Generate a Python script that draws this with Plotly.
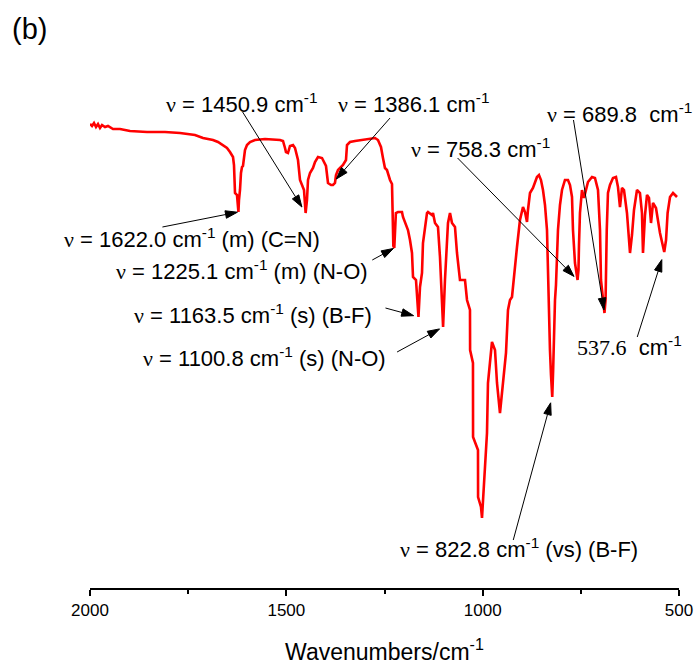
import math
import plotly.graph_objects as go

# FT-IR spectrum, 2000-500 cm-1 region
wavenumber = [
    2000, 1994.9, 1989.8, 1984.7, 1979.6, 1974.5, 1969.4, 1961.8, 1954.2, 1941.4,
    1923.6, 1898.1, 1854.8, 1809.0, 1770.8, 1732.6, 1712.2, 1686.8, 1674.0, 1661.3,
    1651.1, 1643.5, 1635.8, 1633.3, 1630.7, 1625.7, 1622.0, 1620.6, 1618.0, 1615.5,
    1612.9, 1610.4, 1605.3, 1600.2, 1592.5, 1579.8, 1554.3, 1516.1, 1508.5, 1503.4,
    1500.9, 1495.8, 1490.7, 1483.0, 1477.9, 1470.3, 1465.2, 1455.0, 1450.9, 1447.4,
    1444.8, 1439.7, 1432.1, 1427.0, 1419.4, 1409.2, 1399.0, 1393.9, 1386.1, 1381.2,
    1376.1, 1373.5, 1368.4, 1355.7, 1348.1, 1345.5, 1337.9, 1325.1, 1304.8, 1287.0,
    1274.2, 1266.6, 1259.0, 1253.9, 1248.8, 1243.7, 1236.0, 1230.9, 1227.5, 1225.1,
    1221.0, 1215.6, 1205.5, 1202.9, 1197.8, 1190.2, 1185.1, 1180.0, 1177.4, 1169.8,
    1163.5, 1159.6, 1154.5, 1152.0, 1141.8, 1139.3, 1129.1, 1126.5, 1121.4, 1113.8,
    1108.7, 1103.6, 1100.8, 1096.0, 1090.9, 1088.3, 1083.2, 1078.1, 1070.5, 1065.4,
    1057.8, 1052.7, 1045.0, 1039.9, 1032.3, 1032.0, 1024.7, 1024.5, 1011.9, 1011.7,
    1004.3, 1001.7, 999.2, 989.0, 986.5, 976.3, 968.6, 963.5, 955.9, 948.3,
    940.6, 935.5, 930.4, 925.3, 917.7, 912.6, 905.0, 897.3, 892.2, 887.1,
    884.6, 879.5, 871.9, 861.7, 856.6, 851.5, 846.4, 841.3, 836.2, 833.7,
    831.1, 828.6, 826.0, 822.8, 820.5, 818.4, 815.8, 813.3, 810.8, 808.2,
    803.1, 798.0, 790.4, 782.7, 777.6, 772.5, 770.0, 764.9, 758.3, 756.0,
    754.7, 752.2, 747.1, 742.0, 736.9, 731.8, 721.6, 714.0, 706.3, 701.2,
    698.7, 694.0, 689.8, 687.0, 685.5, 684.0, 680.9, 675.8, 668.1, 660.5,
    655.4, 650.3, 645.2, 640.1, 632.5, 627.4, 624.8, 619.7, 614.6, 607.0,
    599.4, 594.3, 591.7, 586.6, 581.5, 576.4, 571.3, 566.2, 558.6, 548.4,
    537.6, 533.0, 529.0, 522.9, 515.2, 510.1, 505.1,
]

transmittance = [
    95.2, 94.8, 95.4, 94.6, 95.2, 94.4, 95.0, 94.6, 94.8, 94.2,
    94.2, 93.8, 93.6, 93.6, 93.4, 93.0, 92.4, 92.0, 91.6, 91.0,
    90.4, 89.6, 88.6, 87.0, 81.4, 81.0, 77.6, 80.0, 82.0, 85.4,
    86.6, 86.8, 90.0, 91.0, 91.6, 92.0, 92.2, 92.0, 91.8, 90.4,
    89.6, 89.4, 90.8, 91.0, 90.4, 88.0, 84.0, 82.0, 77.4, 80.0,
    84.0, 85.4, 86.4, 87.6, 88.6, 88.4, 86.8, 83.4, 83.0, 83.0,
    83.4, 85.0, 86.0, 87.0, 88.0, 91.0, 91.6, 91.8, 92.0, 92.2,
    92.4, 92.0, 90.6, 88.4, 86.4, 86.0, 84.0, 83.2, 70.8, 70.4,
    77.4, 77.6, 77.6, 76.6, 75.4, 74.0, 72.0, 69.4, 64.6, 64.0,
    56.6, 62.6, 65.4, 71.4, 77.4, 77.6, 77.0, 77.4, 75.4, 74.6,
    68.6, 58.6, 54.6, 64.0, 72.6, 75.4, 77.4, 75.4, 74.6, 69.4,
    64.0, 64.0, 64.0, 60.0, 58.0, 50.0, 47.4, 32.6, 30.0, 20.6,
    18.6, 16.4, 20.0, 33.4, 43.4, 51.6, 50.0, 43.4, 37.4, 43.4,
    49.4, 58.0, 60.0, 60.6, 67.0, 70.6, 76.0, 78.6, 77.6, 75.6,
    78.0, 81.4, 82.4, 84.6, 85.0, 84.0, 82.0, 79.0, 74.0, 64.0,
    54.0, 50.0, 45.0, 40.6, 46.0, 56.0, 60.0, 63.0, 68.0, 74.0,
    79.0, 82.0, 84.0, 84.0, 83.0, 80.6, 74.0, 67.4, 64.0, 66.0,
    71.0, 77.4, 82.0, 80.4, 82.0, 83.6, 84.6, 84.4, 82.0, 74.0,
    64.0, 60.0, 57.4, 60.0, 68.0, 74.0, 81.4, 83.0, 84.4, 84.6,
    82.6, 78.6, 82.4, 82.0, 77.4, 73.0, 69.4, 73.0, 78.0, 82.0,
    81.4, 77.4, 69.4, 77.0, 81.0, 80.4, 75.4, 79.4, 78.4, 73.4,
    69.6, 72.0, 77.4, 80.6, 81.4, 81.0, 80.6,
]

# Assigned bands and their label suffixes
band_positions = [1622.0, 1450.9, 1386.1, 1225.1, 1163.5, 1100.8, 822.8, 758.3, 689.8, 537.6]
band_suffixes = [" (m) (C=N)", "", "", " (m) (N-O)", " (s) (B-F)", " (s) (N-O)",
                 " (vs) (B-F)", "", "", ""]

W, H = 696, 665
ML, MR, MT, MB = 90, 17, 100, 77
PW, PH = W - ML - MR, H - MT - MB

SANS = "Liberation Sans, Arial, sans-serif"
SERIF = "Liberation Serif, Times New Roman, serif"
LABEL_SIZE = 22
NU = f'<span style="font-family:{SERIF};font-size:{LABEL_SIZE}px">ν</span>'
CM = "cm<sup>-1</sup>"


def paper(px, py):
    """Page pixel -> paper fraction."""
    return (px - ML) / PW, (H - MB - py) / PH


def label(pos, suffix, spacer=" "):
    return f"{NU} = {pos:.1f}{spacer}{CM}{suffix}"


fig = go.Figure()
fig.add_trace(go.Scatter(
    x=wavenumber, y=transmittance, mode="lines",
    line=dict(color="#ff0000", width=2.6),
    hoverinfo="skip", showlegend=False,
))

# label text placement (left edge, vertical centre) in page pixels
text_layout = {
    1622.0: (62, 238),
    1450.9: (164, 103),
    1386.1: (336, 103),
    1225.1: (114, 270),
    1163.5: (132, 314),
    1100.8: (141, 357),
    822.8: (398, 548),
    758.3: (409, 148),
    689.8: (545, 113),
    537.6: (575, 346),
}
# arrow tail offsets (screen pixels from the band minimum, y down) and tip standoff
arrow_layout = {
    1622.0: (-76, 15, 1),
    1450.9: (-63, -101, 7),
    1386.1: (59, -67, 8),
    1225.1: (-22, 12, 1),
    1163.5: (-33, -9, 5),
    1100.8: (-46, 25, 4),
    822.8: (-39, 143, 6),
    758.3: (-120, -122, 5),
    689.8: (-31, -193, 3),
    537.6: (-27, 85, 8),
}
HEAD_LEN, HEAD_HALF = 12, 3.8


def arrow_path(ax, ay, so):
    """Arrow from tail offset (ax, ay) to the anchor, in pixel units, y up."""
    ux, uy = ax, -ay
    n = math.hypot(ux, uy)
    ux, uy = ux / n, uy / n
    tx, ty = so * ux, so * uy
    bx, by = tx + HEAD_LEN * ux, ty + HEAD_LEN * uy
    lx, ly = bx - HEAD_HALF * uy, by + HEAD_HALF * ux
    rx, ry = bx + HEAD_HALF * uy, by - HEAD_HALF * ux
    return (f"M{ax:.2f},{-ay:.2f} L{bx:.2f},{by:.2f} "
            f"M{tx:.2f},{ty:.2f} L{lx:.2f},{ly:.2f} L{rx:.2f},{ry:.2f} Z")


annotations = []
shapes = []
for pos, suffix in zip(band_positions, band_suffixes):
    idx = wavenumber.index(pos)
    ax, ay, so = arrow_layout[pos]
    shapes.append(dict(
        type="path", xref="x", yref="y",
        xsizemode="pixel", ysizemode="pixel",
        xanchor=pos, yanchor=transmittance[idx],
        path=arrow_path(ax, ay, so),
        line=dict(color="#000000", width=1), fillcolor="#000000",
        layer="above",
    ))
    tx, ty = text_layout[pos]
    px, py = paper(tx, ty)
    if pos == 537.6:
        txt = (f'<span style="font-family:{SERIF};font-size:{LABEL_SIZE}px">'
               f'{pos:.1f}</span>  {CM}')
    elif pos == 689.8:
        txt = label(pos, suffix, spacer="  ")
    else:
        txt = label(pos, suffix)
    annotations.append(dict(
        x=px, y=py, xref="paper", yref="paper", text=txt, showarrow=False,
        xanchor="left", yanchor="middle",
        font=dict(family=SANS, size=LABEL_SIZE, color="#000000"),
    ))

# panel tag
bx, by = paper(10, 29)
annotations.append(dict(
    x=bx, y=by, xref="paper", yref="paper", text="(b)", showarrow=False,
    xanchor="left", yanchor="middle",
    font=dict(family=SANS, size=29, color="#000000"),
))

fig.update_layout(
    width=W, height=H,
    margin=dict(l=ML, r=MR, t=MT, b=MB, pad=0, autoexpand=False),
    paper_bgcolor="white", plot_bgcolor="white",
    annotations=annotations, shapes=shapes,
    xaxis=dict(
        range=[2000, 500], tickmode="array", tickvals=[2000, 1500, 1000, 500],
        ticktext=["2000", "1500", "1000", "500"],
        showline=True, linecolor="#000000", linewidth=1.5,
        ticks="outside", ticklen=6, tickwidth=1.5, tickcolor="#000000",
        minor=dict(tickvals=[1750, 1250, 750], ticks="outside", ticklen=4,
                   tickwidth=1.5, tickcolor="#000000", showgrid=False),
        showgrid=False, zeroline=False, mirror=False, automargin=False,
        tickfont=dict(family=SANS, size=17, color="#000000"),
        title=dict(text="Wavenumbers/cm<sup>-1</sup>", standoff=32,
                   font=dict(family=SANS, size=23, color="#000000")),
    ),
    yaxis=dict(range=[2.4, 100], visible=False, showgrid=False, zeroline=False),
)

fig.write_html("out.html")
